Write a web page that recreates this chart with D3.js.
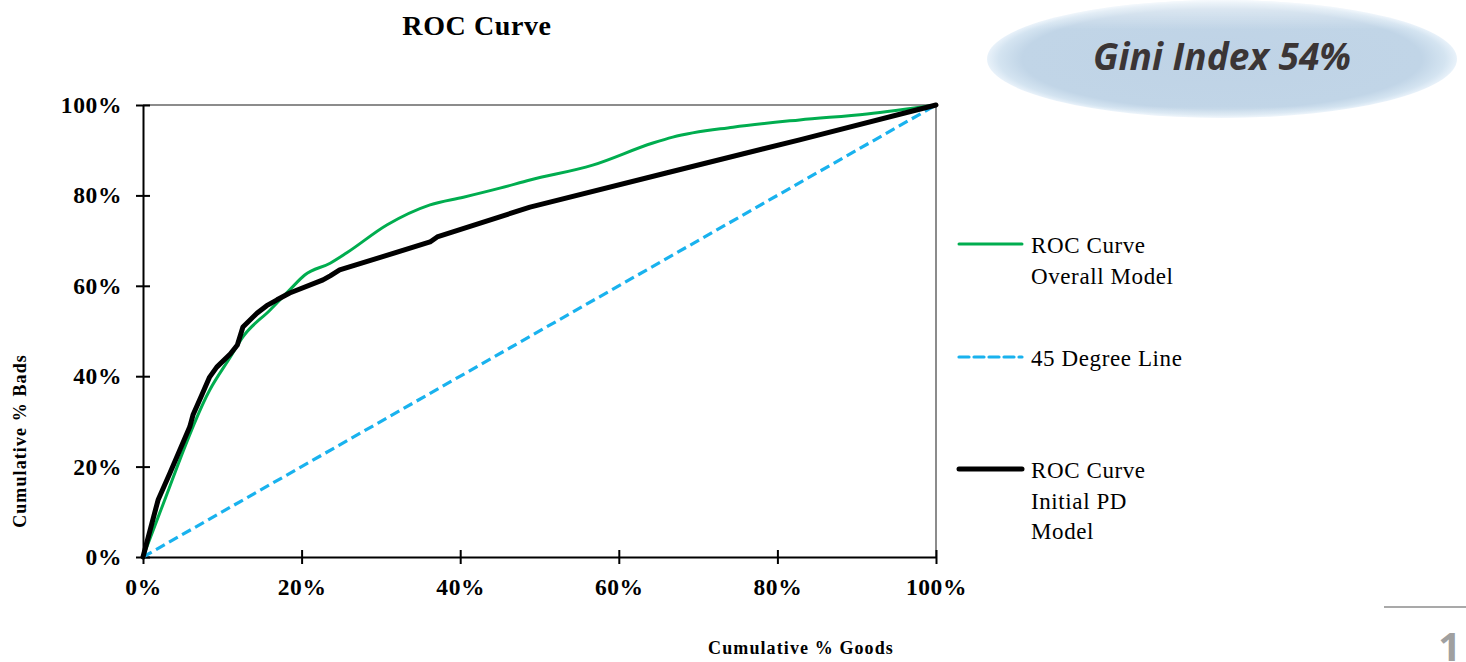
<!DOCTYPE html>
<html>
<head>
<meta charset="utf-8">
<script src="https://cdn.jsdelivr.net/npm/d3@7"></script>
<style>
  html, body { margin: 0; padding: 0; background: #fff; }
  svg { display: block; }
</style>
</head>
<body>
<svg id="chart" width="1466" height="662"></svg>
<script>
// Cumulative % Goods (x) and Cumulative % Bads (y), in percent
const overallX = [0, 2.1, 8.4, 11.0, 12.6, 16.0, 18.5, 20.4, 23.6, 25.7, 30.8, 36.2, 40.4, 45.0, 48.8, 56.7, 64.3, 66.8, 74.4, 82.8, 91.3, 100];
const overallY = [0, 9.7, 36.9, 44.2, 48.7, 54.6, 59.1, 62.4, 65.0, 67.3, 73.5, 77.9, 79.6, 81.6, 83.4, 86.7, 91.6, 92.9, 95.1, 96.7, 98.0, 100];

const initialX = [0, 1.9, 3.4, 5.9, 6.3, 7.4, 8.4, 9.3, 11.0, 11.9, 12.6, 14.4, 15.6, 16.9, 18.5, 22.7, 23.6, 24.8, 36.2, 37.1, 48.8, 66.1, 82.8, 100];
const initialY = [0, 12.6, 18.6, 28.8, 31.4, 35.8, 39.8, 42.0, 44.9, 46.9, 50.9, 54.0, 55.6, 56.9, 58.4, 61.3, 62.2, 63.5, 69.7, 70.8, 77.4, 85.0, 92.3, 100];

const diagonalX = [0, 100];
const diagonalY = [0, 100];

const tickValues = [0, 20, 40, 60, 80, 100];
const tickLabels = ["0%", "20%", "40%", "60%", "80%", "100%"];

const giniLabel = "Gini Index 54%";

const svg = d3.select("#chart");
const serif = "'Liberation Serif', 'Times New Roman', serif";
const sans = "'Open Sans', 'DejaVu Sans', sans-serif";

const plot = { left: 143, right: 936, top: 105, bottom: 557 };
const x = d3.scaleLinear().domain([0, 100]).range([plot.left, plot.right]);
const y = d3.scaleLinear().domain([0, 100]).range([plot.bottom, plot.top]);

// Plot frame: grey top and right edges
svg.append("line").attr("x1", plot.left).attr("x2", plot.right)
  .attr("y1", plot.top).attr("y2", plot.top)
  .attr("stroke", "#8c8c8c").attr("stroke-width", 2);
svg.append("line").attr("x1", plot.right).attr("x2", plot.right)
  .attr("y1", plot.top).attr("y2", plot.bottom)
  .attr("stroke", "#8c8c8c").attr("stroke-width", 2);

// Axes with ticks crossing the axis line
const fmt = (d) => tickLabels[tickValues.indexOf(d)];
const xAxis = svg.append("g").attr("transform", `translate(0,${plot.bottom})`)
  .call(d3.axisBottom(x).tickValues(tickValues).tickFormat(fmt).tickSizeInner(7).tickSizeOuter(0));
const yAxis = svg.append("g").attr("transform", `translate(${plot.left},0)`)
  .call(d3.axisLeft(y).tickValues(tickValues).tickFormat(fmt).tickSizeInner(7).tickSizeOuter(0));

[xAxis, yAxis].forEach(g => {
  g.select(".domain").attr("stroke", "#000").attr("stroke-width", 2);
  g.selectAll(".tick line").attr("stroke", "#000").attr("stroke-width", 2);
  g.selectAll(".tick text")
    .attr("font-family", serif).attr("font-weight", "bold")
    .attr("font-size", 23.5).attr("fill", "#000").attr("letter-spacing", 0.6);
});
xAxis.selectAll(".tick line").attr("y1", -7).attr("y2", 7);
yAxis.selectAll(".tick line").attr("x1", -7).attr("x2", 7);
yAxis.selectAll(".tick text").attr("x", -21).attr("dy", "0.32em");
xAxis.selectAll(".tick text").attr("y", 21).attr("dy", "0.71em");

// Series lines
const zip = (a, b) => a.map((v, i) => [v, b[i]]);
const smooth = d3.line().x(d => x(d[0])).y(d => y(d[1])).curve(d3.curveMonotoneX);
const straight = d3.line().x(d => x(d[0])).y(d => y(d[1]));

svg.append("path").datum(zip(diagonalX, diagonalY))
  .attr("d", straight)
  .attr("fill", "none").attr("stroke", "#19b2ee").attr("stroke-width", 3.2)
  .attr("stroke-dasharray", "10,5");

svg.append("path").datum(zip(overallX, overallY))
  .attr("d", smooth)
  .attr("fill", "none").attr("stroke", "#00ad4f").attr("stroke-width", 3)
  .attr("stroke-linejoin", "round");

svg.append("path").datum(zip(initialX, initialY))
  .attr("d", straight)
  .attr("fill", "none").attr("stroke", "#000").attr("stroke-width", 5)
  .attr("stroke-linejoin", "round").attr("stroke-linecap", "round");

// Titles
svg.append("text").attr("x", 477).attr("y", 35)
  .attr("text-anchor", "middle").attr("font-family", serif)
  .attr("font-weight", "bold").attr("font-size", 28).attr("letter-spacing", 0.6)
  .text("ROC Curve");

svg.append("text").attr("x", 801).attr("y", 654)
  .attr("text-anchor", "middle").attr("font-family", serif)
  .attr("font-weight", "bold").attr("font-size", 18).attr("letter-spacing", 1.1)
  .text("Cumulative % Goods");

svg.append("text")
  .attr("transform", "translate(26,441) rotate(-90)")
  .attr("text-anchor", "middle").attr("font-family", serif)
  .attr("font-weight", "bold").attr("font-size", 18).attr("letter-spacing", 1.1)
  .text("Cumulative % Bads");

// Legend
const legend = [
  { lines: ["ROC Curve", "Overall Model"], y: 244, color: "#00ad4f", width: 3, dash: null },
  { lines: ["45 Degree Line"], y: 357, color: "#19b2ee", width: 3.2, dash: "10,5" },
  { lines: ["ROC Curve", "Initial PD", "Model"], y: 469, color: "#000", width: 5, dash: null }
];
const lg = svg.append("g");
legend.forEach(item => {
  lg.append("line").attr("x1", 959).attr("x2", 1022)
    .attr("y1", item.y).attr("y2", item.y)
    .attr("stroke", item.color).attr("stroke-width", item.width)
    .attr("stroke-linecap", "round")
    .attr("stroke-dasharray", item.dash);
  const t = lg.append("text").attr("x", 1031).attr("y", item.y + 9)
    .attr("font-family", serif).attr("font-size", 23).attr("letter-spacing", 0.6)
    .attr("fill", "#000");
  item.lines.forEach((s, i) => {
    t.append("tspan").attr("x", 1031).attr("dy", i === 0 ? 0 : 30.5).text(s);
  });
});

// Gini badge
const defs = svg.append("defs");
const rg = defs.append("radialGradient").attr("id", "badgeFill")
  .attr("cx", "50%").attr("cy", "50%").attr("r", "50%");
rg.append("stop").attr("offset", "0%").attr("stop-color", "#bfd3e6");
rg.append("stop").attr("offset", "85%").attr("stop-color", "#c1d5e7");
rg.append("stop").attr("offset", "95%").attr("stop-color", "#d4e4f1");
rg.append("stop").attr("offset", "100%").attr("stop-color", "#e9f2fa");
const shine = defs.append("linearGradient").attr("id", "badgeShine")
  .attr("x1", 0).attr("y1", 0).attr("x2", 0).attr("y2", 1);
shine.append("stop").attr("offset", "0%").attr("stop-color", "#ffffff").attr("stop-opacity", 0.6);
shine.append("stop").attr("offset", "25%").attr("stop-color", "#ffffff").attr("stop-opacity", 0);
shine.append("stop").attr("offset", "90%").attr("stop-color", "#ffffff").attr("stop-opacity", 0);
shine.append("stop").attr("offset", "100%").attr("stop-color", "#ffffff").attr("stop-opacity", 0.35);

svg.append("ellipse").attr("cx", 1222).attr("cy", 59).attr("rx", 235).attr("ry", 59)
  .attr("fill", "url(#badgeFill)");
svg.append("ellipse").attr("cx", 1222).attr("cy", 59).attr("rx", 235).attr("ry", 59)
  .attr("fill", "url(#badgeShine)");
svg.append("text").attr("x", 1222).attr("y", 70)
  .attr("text-anchor", "middle").attr("font-family", sans)
  .attr("font-style", "italic").attr("font-weight", "bold").attr("font-size", 37)
  .attr("fill", "#3b3535").text(giniLabel);

// Page marker
svg.append("line").attr("x1", 1384).attr("x2", 1466).attr("y1", 607).attr("y2", 607)
  .attr("stroke", "#555").attr("stroke-width", 1.2);
svg.append("text").attr("x", 1461).attr("y", 661)
  .attr("text-anchor", "end").attr("font-family", sans)
  .attr("font-weight", "bold").attr("font-size", 40).attr("fill", "#a0a0a0").text("1");
</script>
</body>
</html>
